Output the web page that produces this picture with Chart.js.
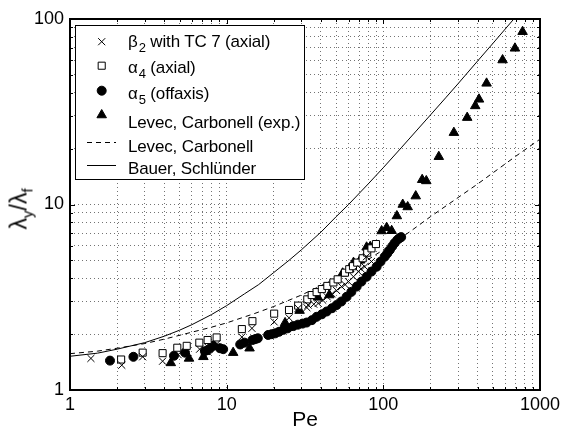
<!DOCTYPE html>
<html>
<head>
<meta charset="utf-8">
<script src="https://cdn.jsdelivr.net/npm/chart.js@4"></script>
<style>
  body { margin: 0; background: #fff; }
  #wrap { position: relative; width: 565px; height: 431px; font-family: 'Liberation Sans', Arial, sans-serif; color: #000; }
  #wrap canvas { position: absolute; left: 0; top: 0; }
  .lbl { position: absolute; left: 128px; white-space: nowrap; font-size: 17px; letter-spacing: -0.15px; line-height: 1; transform: translateY(-50%); }
  .lbl sub { font-size: 13px; vertical-align: -5px; line-height: 0; margin-left: 1px; }
  #ytitle sub { font-size: 15px; vertical-align: -6px; line-height: 0; }
  #ytitle { position: absolute; left: 19px; top: 209px; font-size: 23px; line-height: 1; white-space: nowrap; transform: translate(-50%, -50%) rotate(-90deg); }
</style>
</head>
<body>
<div id="wrap">
  <canvas id="chart" width="565" height="431"></canvas>
  <div id="ytitle">λ<sub>y</sub>/λ<sub>f</sub></div>
  <div id="legendText"></div>
</div>
<script>
// Pe and lambda_y/lambda_f
const betaPe = [1.36, 2.14, 2.91, 3.9, 4.9, 6.72, 7.6, 8.63, 12.5, 14.5, 20.1, 25, 28.6, 32.5, 33.1, 36, 38.4, 41, 43.8, 47, 50.3, 54.1, 57, 59.9, 64.5, 69.3, 72, 76.1, 78, 84];
const betaY = [1.48, 1.36, 1.51, 1.43, 1.55, 1.66, 1.70, 1.77, 1.93, 2.15, 2.33, 2.45, 2.76, 2.78, 2.87, 2.9, 2.93, 3.05, 3.18, 3.3, 3.44, 3.61, 3.7, 3.84, 4.08, 4.35, 4.5, 4.62, 5.23, 4.93];

const alpha4Pe = [2.12, 2.91, 3.9, 4.84, 5.56, 6.69, 7.56, 8.63, 12.5, 14.6, 20.1, 25, 28.6, 32.7, 34.9, 37.5, 40.5, 43.9, 48, 51.1, 56.9, 60.6, 64, 68.1, 73.8, 78.9, 84, 89.7];
const alpha4Y = [1.46, 1.59, 1.58, 1.69, 1.73, 1.80, 1.86, 1.92, 2.13, 2.35, 2.58, 2.70, 2.85, 3.08, 3.25, 3.37, 3.5, 3.64, 3.8, 3.95, 4.29, 4.48, 4.65, 4.86, 5.13, 5.5, 5.8, 6.12];

const alpha5Pe = [1.8, 2.54, 4.61, 5.42, 7.26, 7.8, 8.2, 9.06, 9.5, 12.2, 13, 14.6, 15.2, 15.8, 18.4, 19.4, 20.4, 21.6, 23, 24.5, 26.6, 28.5, 30.5, 32.4, 35, 37.5, 40.5, 43.5, 47, 50.3, 54, 58.3, 62.5, 67.6, 72.5, 78.2, 84, 90.6, 96, 102, 106, 110, 114, 118, 123, 127, 130];
const alpha5Y = [1.44, 1.51, 1.53, 1.59, 1.62, 1.67, 1.73, 1.68, 1.66, 1.76, 1.80, 1.86, 1.88, 1.90, 1.98, 2.0, 2.02, 2.06, 2.11, 2.15, 2.21, 2.25, 2.28, 2.31, 2.38, 2.48, 2.56, 2.65, 2.76, 2.87, 3.0, 3.18, 3.38, 3.61, 3.84, 4.08, 4.35, 4.62, 4.92, 5.23, 5.45, 5.69, 5.95, 6.2, 6.45, 6.6, 6.67];

const levecExpPe = [4.4, 5.75, 7.1, 7.35, 11.0, 14.0, 23.6, 29.2, 38.2, 45.2, 55, 60.6, 64.5, 71, 78.2, 82.5, 97.5, 105, 113, 122, 133, 143, 161, 177, 188, 226, 282, 343, 386, 408, 456, 577, 692, 774];
const levecExpY = [1.40, 1.48, 1.51, 1.61, 1.59, 1.68, 2.30, 2.68, 3.16, 3.25, 4.26, 4.48, 4.86, 5.0, 5.88, 5.92, 7.2, 7.5, 7.22, 8.67, 10.0, 9.7, 11.1, 13.6, 13.4, 18.1, 24.4, 29.4, 34, 36.9, 45, 60.1, 69.5, 85.4];

const levecPe = [1, 1.5, 2, 3, 4, 6, 8, 10, 15, 20, 30, 40, 60, 80, 100, 150, 200, 300, 400, 500, 700, 1000];
const levecY = [1.57, 1.62, 1.68, 1.78, 1.88, 2.05, 2.18, 2.30, 2.58, 2.82, 3.25, 3.65, 4.4, 5.05, 5.7, 7.2, 8.6, 10.9, 12.9, 14.8, 18.2, 22.5];

const bauerPe = [1, 1.5, 2, 3, 4, 5, 6, 8, 10, 13, 16, 20, 25, 30, 40, 50, 60, 80, 100, 130, 160, 200, 250, 300, 400, 500, 600, 700];
const bauerY = [1.52, 1.58, 1.66, 1.80, 1.95, 2.10, 2.25, 2.55, 2.85, 3.3, 3.7, 4.3, 5.0, 5.7, 7.1, 8.6, 10.0, 12.9, 15.8, 20.2, 24.6, 30.4, 37.6, 44.8, 59.4, 73.8, 88.3, 102.8];

const xLabels = [1, 10, 100, 1000];
const yLabels = [1, 10, 100];

// legend entries: [main text, subscript, rest]
const legendNames = [
    ['β', '2', ' with TC 7 (axial)'],
    ['α', '4', ' (axial)'],
    ['α', '5', ' (offaxis)'],
    ['Levec, Carbonell (exp.)', '', ''],
    ['Levec, Carbonell', '', ''],
    ['Bauer, Schlünder', '', '']
];

function pts(xs, ys) {
    return xs.map((x, i) => ({ x: x, y: ys[i] }));
}

function logTicks(min, max) {
    const out = [];
    for (let d = min; d < max; d *= 10) {
        for (let k = 1; k < 10; k++) out.push(d * k);
    }
    out.push(max);
    return out;
}

// legend text as html
const textRows = [41, 66.5, 92.5, 122, 146, 168];
const legendText = document.getElementById('legendText');
legendNames.forEach((n, i) => {
    const div = document.createElement('div');
    div.className = 'lbl';
    div.style.top = textRows[i] + 'px';
    div.innerHTML = n[0] + (n[1] ? '<sub>' + n[1] + '</sub>' : '') + n[2];
    legendText.appendChild(div);
});

// box, inner ticks
const framePlugin = {
    id: 'frame',
    afterDatasetsDraw(chart) {
        const { ctx, chartArea: a, scales } = chart;
        ctx.save();
        ctx.strokeStyle = '#000';
        ctx.lineWidth = 1;
        ctx.setLineDash([]);
        scales.x.ticks.forEach(t => {
            const px = Math.round(scales.x.getPixelForValue(t.value)) + 0.5;
            const len = xLabels.includes(t.value) ? 5 : 3;
            ctx.beginPath();
            ctx.moveTo(px, a.bottom); ctx.lineTo(px, a.bottom - len);
            ctx.moveTo(px, a.top); ctx.lineTo(px, a.top + len);
            ctx.stroke();
        });
        scales.y.ticks.forEach(t => {
            const py = Math.round(scales.y.getPixelForValue(t.value)) + 0.5;
            const len = yLabels.includes(t.value) ? 5 : 3;
            ctx.beginPath();
            ctx.moveTo(a.left, py); ctx.lineTo(a.left + len, py);
            ctx.moveTo(a.right, py); ctx.lineTo(a.right - len, py);
            ctx.stroke();
        });
        ctx.lineWidth = 2;
        ctx.strokeRect(a.left, a.top, a.right - a.left, a.bottom - a.top);
        ctx.restore();
    }
};

// legend box with the markers, text is html on top
const legendPlugin = {
    id: 'boxLegend',
    afterDraw(chart) {
        const ctx = chart.ctx;
        const markRows = [41.7, 65.7, 90.7, 115, 141.7, 165];
        ctx.save();
        ctx.fillStyle = '#fff';
        ctx.fillRect(75, 25, 229, 154);
        ctx.strokeStyle = '#000';
        ctx.lineWidth = 1;
        ctx.strokeRect(75.5, 25.5, 229, 154);
        chart.data.datasets.forEach((ds, i) => {
            const y = markRows[i];
            ctx.strokeStyle = '#000';
            if (ds.showLine) {
                ctx.lineWidth = ds.borderWidth;
                ctx.setLineDash(ds.borderDash || []);
                ctx.beginPath();
                ctx.moveTo(87, Math.round(y) + 0.5);
                ctx.lineTo(116, Math.round(y) + 0.5);
                ctx.stroke();
                ctx.setLineDash([]);
            } else {
                ctx.fillStyle = ds.backgroundColor;
                ctx.lineWidth = ds.borderWidth;
                Chart.helpers.drawPoint(ctx, {
                    pointStyle: ds.pointStyle,
                    radius: ds.pointRadius,
                    borderWidth: ds.borderWidth,
                    rotation: 0
                }, 101.7, y);
            }
        });
        ctx.restore();
    }
};

const tickFont = { family: "'Liberation Sans', Arial, sans-serif", size: 18 };

new Chart(document.getElementById('chart').getContext('2d'), {
    type: 'scatter',
    data: {
        datasets: [
            {
                label: 'β2 with TC 7 (axial)',
                data: pts(betaPe, betaY),
                pointStyle: 'crossRot',
                pointRadius: 5,
                borderColor: '#000',
                backgroundColor: '#000',
                borderWidth: 1
            },
            {
                label: 'α4 (axial)',
                data: pts(alpha4Pe, alpha4Y),
                pointStyle: 'rect',
                pointRadius: 5,
                borderColor: '#000',
                backgroundColor: '#fff',
                borderWidth: 1
            },
            {
                label: 'α5 (offaxis)',
                data: pts(alpha5Pe, alpha5Y),
                pointStyle: 'circle',
                pointRadius: 4.5,
                borderColor: '#000',
                backgroundColor: '#000',
                borderWidth: 1
            },
            {
                label: 'Levec, Carbonell (exp.)',
                data: pts(levecExpPe, levecExpY),
                pointStyle: 'triangle',
                pointRadius: 5.5,
                borderColor: '#000',
                backgroundColor: '#000',
                borderWidth: 1
            },
            {
                label: 'Levec, Carbonell',
                data: pts(levecPe, levecY),
                showLine: true,
                pointRadius: 0,
                borderColor: '#000',
                borderWidth: 1,
                borderDash: [5, 4]
            },
            {
                label: 'Bauer, Schlünder',
                data: pts(bauerPe, bauerY),
                showLine: true,
                pointRadius: 0,
                borderColor: '#000',
                borderWidth: 1
            }
        ]
    },
    options: {
        responsive: false,
        animation: false,
        layout: { padding: { top: 19, right: 25, left: 0, bottom: 0 } },
        plugins: {
            legend: { display: false },
            tooltip: { enabled: false }
        },
        scales: {
            x: {
                type: 'logarithmic',
                min: 1,
                max: 1000,
                afterBuildTicks: axis => { axis.ticks = logTicks(1, 1000).map(v => ({ value: v })); },
                afterFit: axis => { axis.height = 41; },
                ticks: {
                    autoSkip: false,
                    maxRotation: 0,
                    padding: 4,
                    color: '#000',
                    font: tickFont,
                    callback: v => xLabels.includes(v) ? String(v) : ''
                },
                grid: { color: 'rgba(0,0,0,0.55)', lineWidth: 1, drawTicks: false },
                border: { display: false, dash: [1, 3] },
                title: {
                    display: true,
                    text: 'Pe',
                    color: '#000',
                    font: { family: "'Liberation Sans', Arial, sans-serif", size: 21, lineHeight: 1 },
                    padding: { top: 0, bottom: 0 }
                }
            },
            y: {
                type: 'logarithmic',
                min: 1,
                max: 100,
                afterBuildTicks: axis => { axis.ticks = logTicks(1, 100).map(v => ({ value: v })); },
                afterFit: axis => { axis.width = 70; },
                ticks: {
                    autoSkip: false,
                    padding: 6,
                    color: '#000',
                    font: tickFont,
                    callback: v => yLabels.includes(v) ? String(v) : ''
                },
                grid: { color: 'rgba(0,0,0,0.55)', lineWidth: 1, drawTicks: false },
                border: { display: false, dash: [1, 3] }
            }
        }
    },
    plugins: [framePlugin, legendPlugin]
});
</script>
</body>
</html>
